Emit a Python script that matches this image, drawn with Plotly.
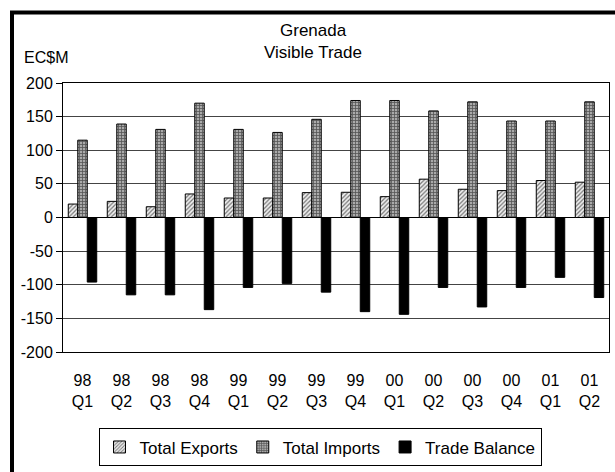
import plotly.graph_objects as go

quarters = ["98<br>Q1", "98<br>Q2", "98<br>Q3", "98<br>Q4",
            "99<br>Q1", "99<br>Q2", "99<br>Q3", "99<br>Q4",
            "00<br>Q1", "00<br>Q2", "00<br>Q3", "00<br>Q4",
            "01<br>Q1", "01<br>Q2"]
total_exports = [20, 24, 16, 35, 29, 29, 37, 37.5, 31, 57, 42, 40, 55, 52.5]
total_imports = [115, 139, 131, 170, 131, 126.5, 146, 174, 174, 158.5, 172, 143.5, 143.5, 172]
trade_balance = [-96, -115, -115, -137, -104, -98, -111, -140, -144, -104, -133, -104, -89, -119]
y_ticks = [200, 150, 100, 50, 0, -50, -100, -150, -200]

FONT = "Liberation Sans, Arial, sans-serif"

fig = go.Figure()
fig.add_trace(go.Bar(
    name="Total Exports", x=quarters, y=total_exports,
    marker=dict(color="white", line=dict(color="black", width=1),
                pattern=dict(shape="/", fgcolor="black", bgcolor="#eeeeee", size=3, solidity=0.4)),
))
fig.add_trace(go.Bar(
    name="Total Imports", x=quarters, y=total_imports,
    marker=dict(color="white", line=dict(color="black", width=1),
                pattern=dict(shape="+", fgcolor="black", bgcolor="#aaaaaa", size=3, solidity=0.45)),
))
fig.add_trace(go.Bar(
    name="Trade Balance", x=quarters, y=trade_balance,
    marker=dict(color="black", line=dict(color="black", width=1)),
))

L, R, T, B = 63, 6, 83, 118
W, H = 615, 472
pw, ph = W - L - R, H - T - B

def px_x(p):
    return (p - L) / pw

def px_y(p):
    return (H - B - p) / ph

fig.update_layout(
    width=W, height=H,
    margin=dict(l=L, r=R, t=T, b=B),
    paper_bgcolor="white", plot_bgcolor="white",
    barmode="group", bargap=0.27, bargroupgap=0,
    font=dict(family=FONT, size=16, color="black"),
    showlegend=True,
    legend=dict(orientation="h", x=px_x(320), xanchor="center",
                y=px_y(431), yanchor="top",
                bordercolor="black", borderwidth=1,
                font=dict(family=FONT, size=17, color="black"),
                itemwidth=30, tracegroupgap=0),
    xaxis=dict(showgrid=False, showline=True, linecolor="black", linewidth=1,
               mirror=True, ticks="", tickfont=dict(family=FONT, size=16),
               ticklabelstandoff=14, zeroline=False),
    yaxis=dict(range=[-200, 200], tickvals=y_ticks, ticktext=[str(v) for v in y_ticks],
               showgrid=True, gridcolor="#444444", gridwidth=1,
               zeroline=True, zerolinecolor="black", zerolinewidth=1,
               showline=True, linecolor="black", linewidth=1, mirror=True,
               ticks="outside", ticklen=6, tickcolor="black",
               tickfont=dict(family=FONT, size=16)),
    annotations=[
        dict(text="Grenada", xref="paper", yref="paper", x=px_x(313), y=px_y(30),
             xanchor="center", yanchor="middle", showarrow=False,
             font=dict(family=FONT, size=17)),
        dict(text="Visible Trade", xref="paper", yref="paper", x=px_x(313), y=px_y(52),
             xanchor="center", yanchor="middle", showarrow=False,
             font=dict(family=FONT, size=17)),
        dict(text="EC$M", xref="paper", yref="paper", x=px_x(22), y=px_y(57),
             xanchor="left", yanchor="middle", showarrow=False,
             font=dict(family=FONT, size=16)),
    ],
    shapes=[
        dict(type="rect", xref="paper", yref="paper",
             x0=px_x(12), y0=px_y(485), x1=px_x(630), y1=px_y(12),
             line=dict(color="black", width=4), fillcolor="rgba(0,0,0,0)", layer="above"),
    ],
)

fig.write_html("out.html")
